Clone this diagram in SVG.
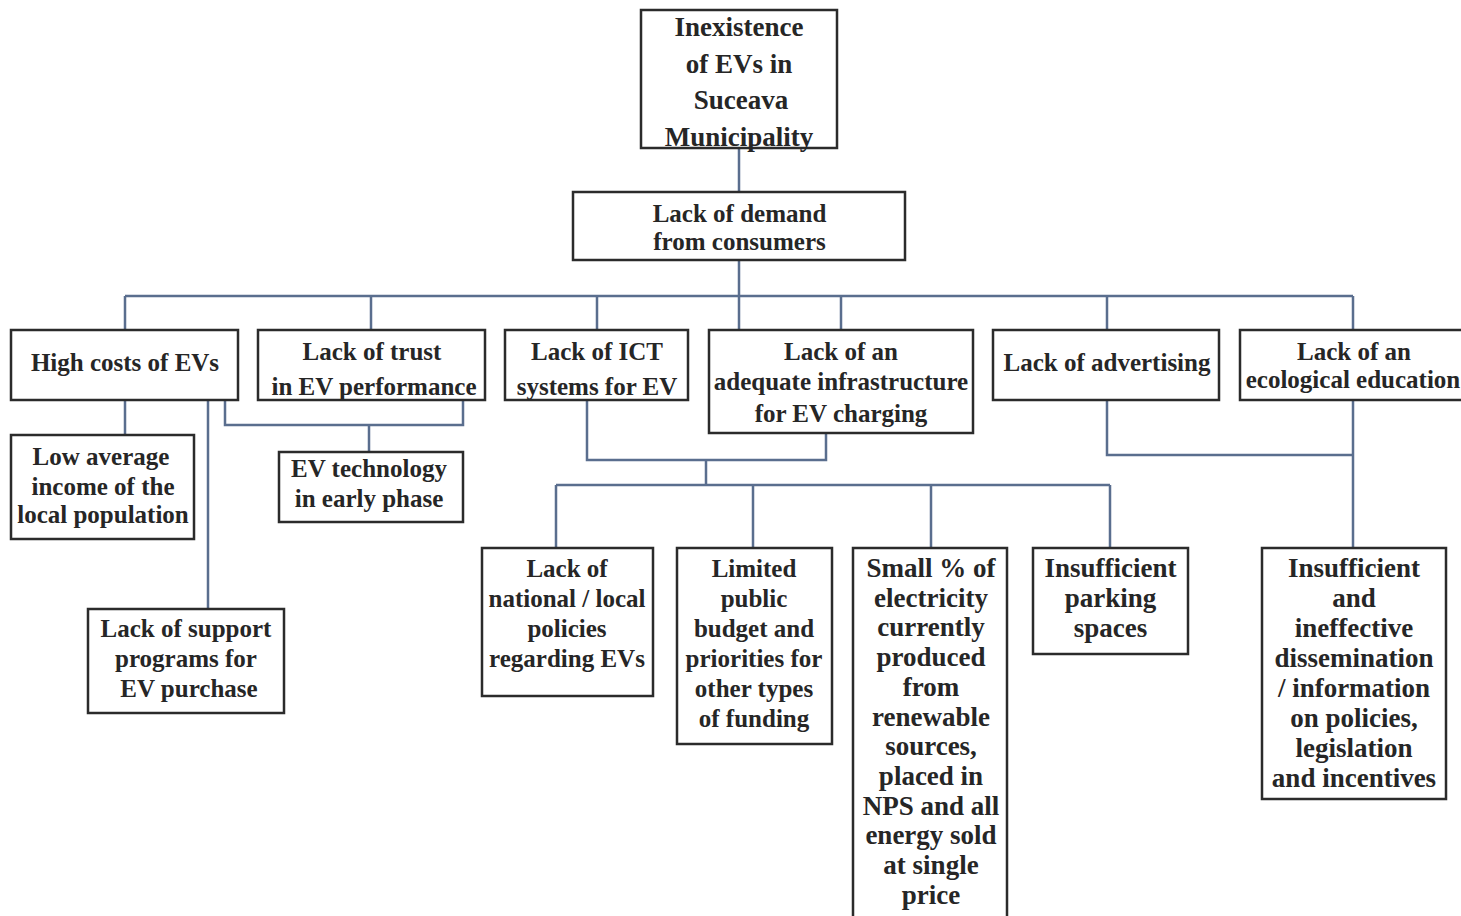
<svg xmlns="http://www.w3.org/2000/svg" width="1461" height="916" viewBox="0 0 1461 916">
<style>
.box{fill:#fff;stroke:#2b2b2b;stroke-width:2.5}
.t{font-family:"Liberation Serif","Times New Roman",serif;font-weight:bold;font-size:25px;fill:#262626;text-anchor:middle}
.big{font-size:27px}
.c{fill:none;stroke:#5a6e8e;stroke-width:2.5}
</style>
<rect width="1461" height="916" fill="#fff"/>
<g id="connectors" class="c">
<path d="M739 148V192M739 260V296M125 296H1353"/>
<path d="M125 296V330M371 296V330M597 296V330M739 296V330M841 296V330M1107 296V330M1353 296V330"/>
<path d="M125 400V435M208 400V609M225 400V425H463V400M369 425V452"/>
<path d="M587 400V460H826V433M706 460V485M556 485H1110M556 485V548M753 485V548M931 485V548M1110 485V548"/>
<path d="M1107 400V455H1353M1353 400V548"/>
</g>
<g id="n-top"><rect class="box" x="641" y="10" width="196" height="138"/>
<text class="t big" x="739" y="36">Inexistence</text><text class="t big" x="739" y="72.5">of EVs in</text><text class="t big" x="741" y="109">Suceava</text><text class="t big" x="739" y="145.5">Municipality</text></g>
<g id="n-demand"><rect class="box" x="573" y="192" width="332" height="68"/>
<text class="t" x="739.5" y="221.5">Lack of demand</text><text class="t" x="739.5" y="250">from consumers</text></g>
<g id="n-high"><rect class="box" x="11" y="330" width="227" height="70"/>
<text class="t" x="125" y="370.5">High costs of EVs</text></g>
<g id="n-trust"><rect class="box" x="258" y="330" width="227" height="70"/>
<text class="t" x="372" y="360">Lack of trust</text><text class="t" x="374" y="395">in EV performance</text></g>
<g id="n-ict"><rect class="box" x="505" y="330" width="183" height="70"/>
<text class="t" x="597" y="359.5">Lack of ICT</text><text class="t" x="597" y="395">systems for EV</text></g>
<g id="n-infra"><rect class="box" x="709" y="330" width="264" height="103"/>
<text class="t" x="841" y="359.5">Lack of an</text><text class="t" x="841" y="390">adequate infrastructure</text><text class="t" x="841" y="421.5">for EV charging</text></g>
<g id="n-adv"><rect class="box" x="993" y="330" width="226" height="70"/>
<text class="t" x="1107" y="370.5">Lack of advertising</text></g>
<g id="n-eco"><rect class="box" x="1240" y="330" width="240" height="70"/>
<text class="t" x="1354" y="359.5">Lack of an</text><text class="t" x="1353" y="388">ecological education</text></g>
<g id="n-low"><rect class="box" x="11" y="435" width="183" height="104"/>
<text class="t" x="101" y="465">Low average</text><text class="t" x="103" y="495">income of the</text><text class="t" x="103" y="523">local population</text></g>
<g id="n-evtech"><rect class="box" x="279" y="452" width="184" height="70"/>
<text class="t" x="369" y="477">EV technology</text><text class="t" x="369" y="507">in early phase</text></g>
<g id="n-support"><rect class="box" x="88" y="609" width="196" height="104"/>
<text class="t" x="186" y="637">Lack of support</text><text class="t" x="186" y="667">programs for</text><text class="t" x="189" y="697">EV purchase</text></g>
<g id="n-national"><rect class="box" x="482" y="548" width="171" height="148"/>
<text class="t" x="567" y="577">Lack of</text><text class="t" x="567" y="607">national / local</text><text class="t" x="567" y="637">policies</text><text class="t" x="567" y="667">regarding EVs</text></g>
<g id="n-limited"><rect class="box" x="677" y="548" width="155" height="196"/>
<text class="t" x="754" y="577">Limited</text><text class="t" x="754" y="607">public</text><text class="t" x="754" y="637">budget and</text><text class="t" x="754" y="667">priorities for</text><text class="t" x="754" y="697">other types</text><text class="t" x="754" y="727">of funding</text></g>
<g id="n-small"><rect class="box" x="853" y="548" width="154" height="390"/>
<text class="t big" x="931" y="577">Small % of</text><text class="t big" x="931" y="606.7">electricity</text><text class="t big" x="931" y="636.4">currently</text><text class="t big" x="931" y="666.1">produced</text><text class="t big" x="931" y="695.8">from</text><text class="t big" x="931" y="725.5">renewable</text><text class="t big" x="931" y="755.2">sources,</text><text class="t big" x="931" y="784.9">placed in</text><text class="t big" x="931" y="814.6">NPS and all</text><text class="t big" x="931" y="844.3">energy sold</text><text class="t big" x="931" y="874">at single</text><text class="t big" x="931" y="903.7">price</text></g>
<g id="n-parking"><rect class="box" x="1033" y="548" width="155" height="106"/>
<text class="t big" x="1110.5" y="577">Insufficient</text><text class="t big" x="1110.5" y="607">parking</text><text class="t big" x="1110.5" y="637">spaces</text></g>
<g id="n-dissem"><rect class="box" x="1262" y="548" width="184" height="251"/>
<text class="t big" x="1354" y="577">Insufficient</text><text class="t big" x="1354" y="607">and</text><text class="t big" x="1354" y="637">ineffective</text><text class="t big" x="1354" y="667">dissemination</text><text class="t big" x="1354" y="697">/ information</text><text class="t big" x="1354" y="727">on policies,</text><text class="t big" x="1354" y="757">legislation</text><text class="t big" x="1354" y="787">and incentives</text></g>
</svg>
